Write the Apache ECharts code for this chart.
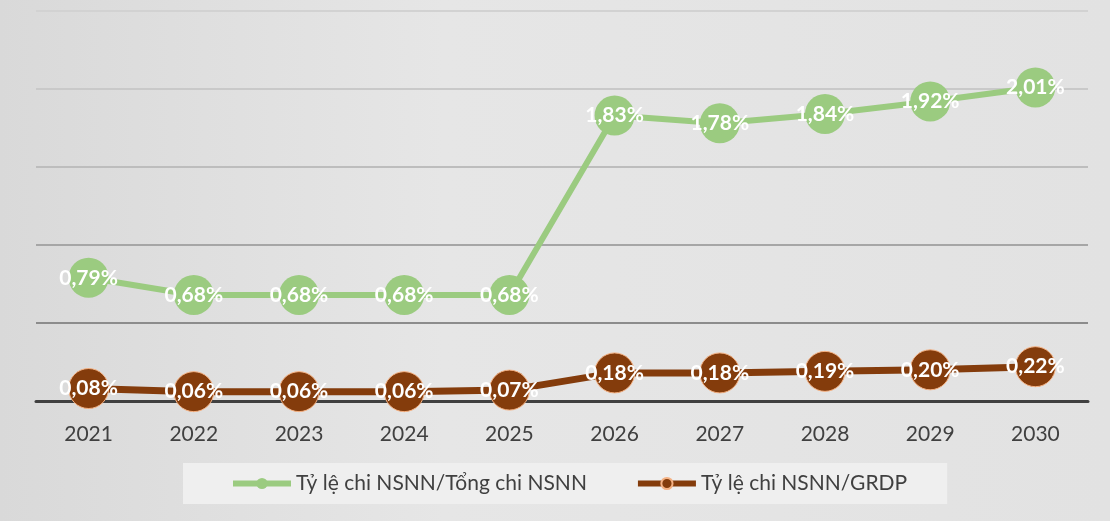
<!DOCTYPE html>
<html>
<head>
<meta charset="utf-8">
<script src="https://cdn.jsdelivr.net/npm/echarts@6/dist/echarts.min.js"></script>
<style>
  html, body { margin: 0; padding: 0; }
  #chart { width: 1110px; height: 521px; }
</style>
</head>
<body>
<div id="chart"></div>
<script>
var years = ['2021', '2022', '2023', '2024', '2025', '2026', '2027', '2028', '2029', '2030'];
var tongChi = [0.79, 0.68, 0.68, 0.68, 0.68, 1.83, 1.78, 1.84, 1.92, 2.01];
var grdp = [0.08, 0.06, 0.06, 0.06, 0.07, 0.18, 0.18, 0.19, 0.20, 0.22];
var seriesNames = ['Tỷ lệ chi NSNN/Tổng chi NSNN', 'Tỷ lệ chi NSNN/GRDP'];

function pct(p) {
    return p.value.toFixed(2).replace('.', ',') + '%';
}

var chart = echarts.init(document.getElementById('chart'));
var labelStyle = {
    show: true,
    position: 'inside',
    color: '#ffffff',
    fontFamily: 'Lato',
    fontWeight: 'bold',
    fontSize: 21,
    formatter: pct
};

var option = {
    backgroundColor: {
        type: 'linear', x: 0, y: 0, x2: 1, y2: 0,
        colorStops: [
            { offset: 0, color: '#d9d9d9' },
            { offset: 0.4, color: '#e6e6e6' },
            { offset: 1, color: '#e2e2e2' }
        ]
    },
    textStyle: { fontFamily: 'Lato' },
    grid: { left: 36, right: 22, top: 11, bottom: 120 },
    legend: {
        data: seriesNames,
        left: 183,
        top: 463,
        backgroundColor: '#efefef',
        padding: [10, 40, 10, 47],
        itemGap: 48,
        itemWidth: 58,
        itemHeight: 14,
        lineStyle: { width: 6 },
        textStyle: { color: '#404040', fontSize: 21, fontFamily: 'Lato' }
    },
    xAxis: {
        type: 'category',
        data: years,
        axisLine: { lineStyle: { color: '#404040', width: 3 } },
        axisTick: { show: false },
        axisLabel: { color: '#404040', fontSize: 21, margin: 23 }
    },
    yAxis: {
        type: 'value',
        min: 0,
        max: 2.5,
        interval: 0.5,
        axisLabel: { show: false },
        axisLine: { show: false },
        axisTick: { show: false },
        splitLine: {
            lineStyle: {
                color: ['#404040', '#8c8c8c', '#a6a6a6', '#bdbdbd', '#c9c9c9', '#d2d2d2'],
                width: 2
            }
        }
    },
    series: [
        {
            name: seriesNames[0],
            type: 'line',
            data: tongChi,
            symbol: 'circle',
            symbolSize: 40,
            itemStyle: { color: '#9bcb80' },
            lineStyle: { color: '#9bcb80', width: 6 },
            label: labelStyle,
            z: 3
        },
        {
            name: seriesNames[1],
            type: 'line',
            data: grdp,
            symbol: 'circle',
            symbolSize: 40,
            itemStyle: { color: '#843c0c', borderColor: '#f4b183', borderWidth: 1 },
            lineStyle: { color: '#843c0c', width: 7 },
            label: labelStyle,
            z: 4
        }
    ]
};
chart.setOption(option);
</script>
</body>
</html>
